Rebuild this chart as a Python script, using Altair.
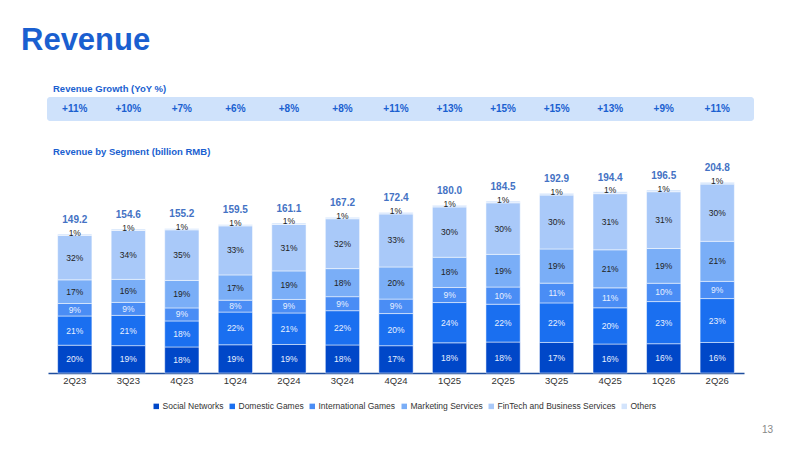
import altair as alt
import pandas as pd

quarters = ["2Q23", "3Q23", "4Q23", "1Q24", "2Q24", "3Q24", "4Q24",
            "1Q25", "2Q25", "3Q25", "4Q25", "1Q26", "2Q26"]
totals = [149.2, 154.6, 155.2, 159.5, 161.1, 167.2, 172.4,
          180.0, 184.5, 192.9, 194.4, 196.5, 204.8]
growth = ["+11%", "+10%", "+7%", "+6%", "+8%", "+8%", "+11%",
          "+13%", "+15%", "+15%", "+13%", "+9%", "+11%"]
segments = ["Social Networks", "Domestic Games", "International Games",
            "Marketing Services", "FinTech and Business Services", "Others"]
social = [20, 19, 18, 19, 19, 18, 17, 18, 18, 17, 16, 16, 16]
domestic = [21, 21, 18, 22, 21, 22, 20, 24, 22, 22, 20, 23, 23]
intl = [9, 9, 9, 8, 9, 9, 9, 9, 10, 11, 11, 10, 9]
marketing = [17, 16, 19, 17, 19, 18, 20, 18, 19, 19, 21, 19, 21]
fintech = [32, 34, 35, 33, 31, 32, 33, 30, 30, 30, 31, 31, 30]
others = [1, 1, 1, 1, 1, 1, 1, 1, 1, 1, 1, 1, 1]
colors = ["#0047c8", "#1a6ff0", "#4a8df5", "#7aaef7", "#a9c9f9", "#d3e4fc"]

series = [social, domestic, intl, marketing, fintech, others]
rows = []
for i, q in enumerate(quarters):
    s = sum(p[i] for p in series)
    base = 0
    for k, seg in enumerate(segments):
        v = totals[i] * series[k][i] / s
        mid = base + v / 2 if k < 5 else base + v + 1.5
        rows.append({"q": q, "seg": seg, "order": k, "v": v, "pct": f"{series[k][i]}%",
                     "mid": mid, "light": k < 3})
        base += v
df = pd.DataFrame(rows)
tot = pd.DataFrame({"q": quarters, "total": totals, "growth": growth})

FONT = "Liberation Sans"
x = alt.X("q:N", sort=quarters, title=None,
          scale=alt.Scale(paddingInner=0.36, paddingOuter=0.18),
          axis=alt.Axis(labelAngle=0, labelAlign="center", ticks=False, labelFontSize=9.5,
                        labelColor="#333", domainColor="#1f4e9e", domainWidth=1.5,
                        labelPadding=7, labelFont=FONT))
y = alt.Y("v:Q", stack="zero", title=None, axis=None, scale=alt.Scale(domain=[0, 220]))

bars = alt.Chart(df).mark_bar(stroke="white", strokeWidth=0.5).encode(
    x=x, y=y,
    color=alt.Color("seg:N", sort=segments, scale=alt.Scale(domain=segments, range=colors),
                    legend=alt.Legend(title=None, orient="none", legendX=104, legendY=234,
                                      direction="horizontal", symbolType="square", symbolSize=30,
                                      labelFontSize=8.5, labelFont=FONT, labelColor="#333",
                                      columnPadding=4, labelOffset=2, symbolStrokeWidth=0)),
    order=alt.Order("order:Q"),
)
pct = alt.Chart(df).mark_text(fontSize=8.5, font=FONT).encode(
    x=alt.X("q:N", sort=quarters),
    y=alt.Y("mid:Q", scale=alt.Scale(domain=[0, 220])),
    text="pct:N",
    color=alt.condition("datum.light", alt.value("#e8f0ff"), alt.value("#222")),
)
totlab = alt.Chart(tot).mark_text(fontSize=10, fontWeight="bold", font=FONT, color="#4472c4", dy=-14).encode(
    x=alt.X("q:N", sort=quarters), y=alt.Y("total:Q", scale=alt.Scale(domain=[0, 220])),
    text=alt.Text("total:Q", format=".1f"))

banner = alt.Chart(tot.head(1)).mark_rect(color="#cfe2fb", cornerRadius=3).encode(
    x=alt.value(-1), x2=alt.value(706), y=alt.value(-71), y2=alt.value(-47))
glab = alt.Chart(tot).mark_text(fontSize=10, fontWeight="bold", font=FONT, color="#1a5fd0").encode(
    x=alt.X("q:N", sort=quarters), y=alt.value(-59), text="growth:N")

def txt(s, px, py, size, color, weight="bold", align="left"):
    return alt.Chart(pd.DataFrame({"t": [s]})).mark_text(
        fontSize=size, fontWeight=weight, font=FONT, color=color, align=align, baseline="middle"
    ).encode(x=alt.value(px), y=alt.value(py), text="t:N")

chart = alt.layer(
    banner, glab, bars, pct, totlab,
    txt("Revenue", -27, -127, 31, "#1a5fd0"),
    txt("Revenue Growth (YoY %)", 5, -79, 9.5, "#1a5fd0"),
    txt("Revenue by Segment (billion RMB)", 5, -16, 9.5, "#1a5fd0"),
    txt("13", 725, 262, 10, "#888", weight="normal", align="right"),
).properties(
    width=696, height=205,
    padding={"left": 40, "top": 160, "right": 40, "bottom": 70},
    autosize=alt.AutoSizeParams(type="none"),
).configure_view(stroke=None)

chart.save("out.html", embed_options={"renderer": "svg", "actions": False})
